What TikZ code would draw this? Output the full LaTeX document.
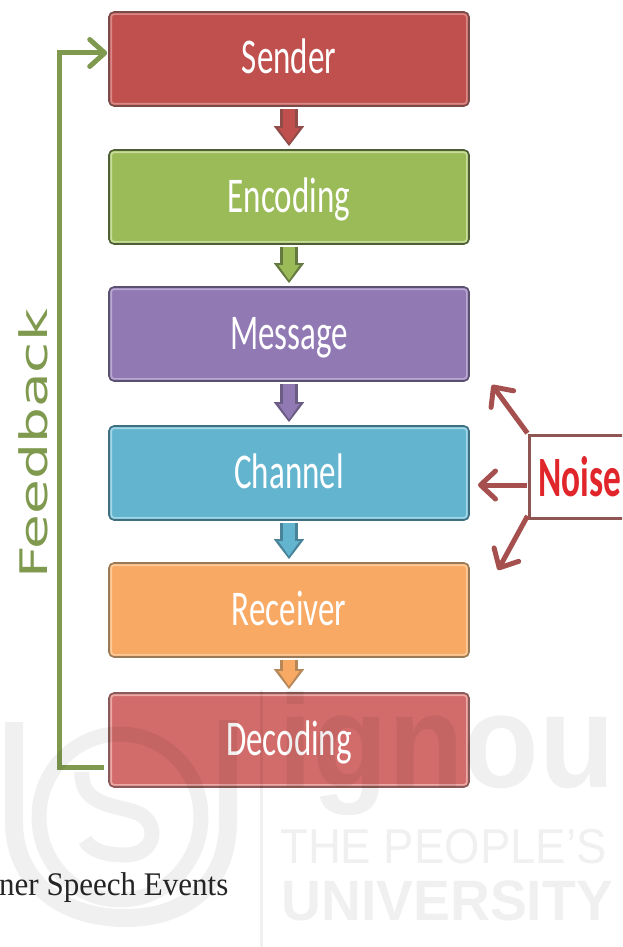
\documentclass[tikz,border=0pt]{standalone}
\usepackage{fontspec}
\setmainfont{Carlito}
\newfontfamily\dejafont{DejaVu Sans}
\newfontfamily\libsans{Liberation Sans}
\newfontfamily\libserif{Liberation Serif}
\usetikzlibrary{arrows.meta}
\definecolor{fbgreen}{HTML}{7F9A4E}
\definecolor{noisered}{HTML}{A5504E}
\definecolor{noiseedge}{HTML}{8E5553}
\definecolor{noisetext}{HTML}{E0252B}
\definecolor{fillA}{HTML}{C0504D}\definecolor{edgeA}{HTML}{7A4A48}\definecolor{liteA}{HTML}{D98A88}
\definecolor{fillB}{HTML}{9BBB59}\definecolor{edgeB}{HTML}{4E5E35}\definecolor{liteB}{HTML}{C9DC9C}
\definecolor{fillC}{HTML}{9179B4}\definecolor{edgeC}{HTML}{5A5070}\definecolor{liteC}{HTML}{B9A8D0}
\definecolor{fillD}{HTML}{63B5CF}\definecolor{edgeD}{HTML}{3E6E80}\definecolor{liteD}{HTML}{A4D6E6}
\definecolor{fillE}{HTML}{F8A963}\definecolor{edgeE}{HTML}{9A7A55}\definecolor{liteE}{HTML}{FBCB9E}
\definecolor{fillF}{HTML}{D26C6A}\definecolor{edgeF}{HTML}{8A5A58}\definecolor{liteF}{HTML}{E9AAA8}
\tikzset{
  stepbox/.style={draw=#1,line width=1.6pt,rounded corners=5pt,minimum width=360pt,minimum height=94pt,inner sep=0pt,
    text=white,text height=33pt,text depth=3pt,font=\fontsize{50}{50}\selectfont},
  fbline/.style={draw=fbgreen,line width=5pt},
  nsline/.style={draw=noisered,line width=5pt,shorten <=1pt,-{Straight Barb[length=15pt,width=28pt,line width=5pt,round]}},
  wmark/.style={black,fill opacity=.06,text opacity=.06,draw opacity=.06},
}
\newcommand{\flowbox}[4]{% name, y, colour letter, text
  \node[stepbox=edge#3,fill=fill#3] (#1) at (289,#2) {\scalebox{.66}[1]{#4}};
  \draw[lite#3,line width=1.6pt,rounded corners=3pt] ([shift={(3pt,3pt)}]#1.south west) rectangle ([shift={(-3pt,-3pt)}]#1.north east);
}
\newcommand{\flowarrow}[3]{% from, to, colour letter
  \draw[edge#3!70!fill#3,line width=18pt,shorten <=2pt,shorten >=3pt,-{Triangle[width=29pt,length=20pt]}] (#1.south) -- (#2.north);
  \draw[fill#3,line width=12pt,shorten <=2pt,shorten >=6pt,-{Triangle[width=20pt,length=15pt]}] (#1.south) -- (#2.north);
}
\begin{document}
\begin{tikzpicture}[x=1pt,y=-1pt]
\useasboundingbox (0,0) rectangle (622,947);
\clip (0,0) rectangle (622,947);
\fill[white] (0,0) rectangle (622,947);
% boxes
\flowbox{b1}{59}{A}{Sender}
\flowbox{b2}{197}{B}{Encoding}
\flowbox{b3}{334}{C}{Message}
\flowbox{b4}{473}{D}{Channel}
\flowbox{b5}{610}{E}{Receiver}
\flowbox{b6}{740}{F}{Decoding}
% block arrows
\flowarrow{b1}{b2}{A}
\flowarrow{b2}{b3}{B}
\flowarrow{b3}{b4}{C}
\flowarrow{b4}{b5}{D}
\flowarrow{b5}{b6}{E}
% feedback
\draw[fbline,-{Straight Barb[length=15pt,width=27pt,line width=5pt,round]}]
  ([shift={(-4pt,-27pt)}]b6.west) -- ++(-45pt,0) |- ([shift={(-1pt,6pt)}]b1.west);
\node[text=fbgreen,rotate=90,inner sep=0pt,font=\dejafont\fontsize{38}{38}\selectfont] (fb) at (33,444) {\scalebox{1.49}[1]{Feedback}};
% noise
\node[draw=noiseedge,line width=3pt,fill=white,anchor=west,minimum height=83pt,inner sep=0pt,text=noisetext,font=\bfseries\fontsize{57}{57}\selectfont] (noise) at (528,477) {\hspace{9pt}\scalebox{.62}[1]{Noise}\hspace{30pt}\mbox{}};
\coordinate (nu) at (492,385);
\coordinate (nm) at (478,485);
\coordinate (nd) at (498,570);
\draw[nsline] (noise.north west) -- (nu);
\draw[nsline] (noise.west |- nm) -- (nm);
\draw[nsline] ([yshift=5pt]noise.south west) -- (nd);
% caption
\node[anchor=base west,inner sep=0pt,font=\libserif\fontsize{33}{33}\selectfont,text=black!85] (cap) at (-1,895) {\scalebox{.94}[1]{ner Speech Events}};
% watermark
\draw[wmark,line width=18pt] (14,722) -- (14,822) .. controls (14,880) and (60,918) .. (125,918) .. controls (190,918) and (228,880) .. (228,822) -- (228,720);
\draw[wmark,line width=15pt] (120,817) ellipse [x radius=81,y radius=83];
\draw[wmark,line width=15pt] (82,772) .. controls (80,805) and (115,805) .. (135,812) .. controls (160,820) and (158,855) .. (125,855) .. controls (105,855) and (90,850) .. (85,840);
\draw[wmark,line width=3pt] (261,690) -- (261,947);
\node[wmark,anchor=base west,inner sep=0pt,font=\libsans\bfseries\fontsize{133}{133}\selectfont] (wa) at (278,787) {\scalebox{.93}[1]{ignou}};
\node[wmark,anchor=base west,inner sep=0pt,font=\libsans\fontsize{49}{49}\selectfont] (wb) at (280,863) {\scalebox{.93}[1]{THE PEOPLE’S}};
\node[wmark,anchor=base west,inner sep=0pt,font=\libsans\bfseries\fontsize{57}{57}\selectfont] (wc) at (281,920) {\scalebox{.97}[1]{UNIVERSITY}};
\end{tikzpicture}
\end{document}
